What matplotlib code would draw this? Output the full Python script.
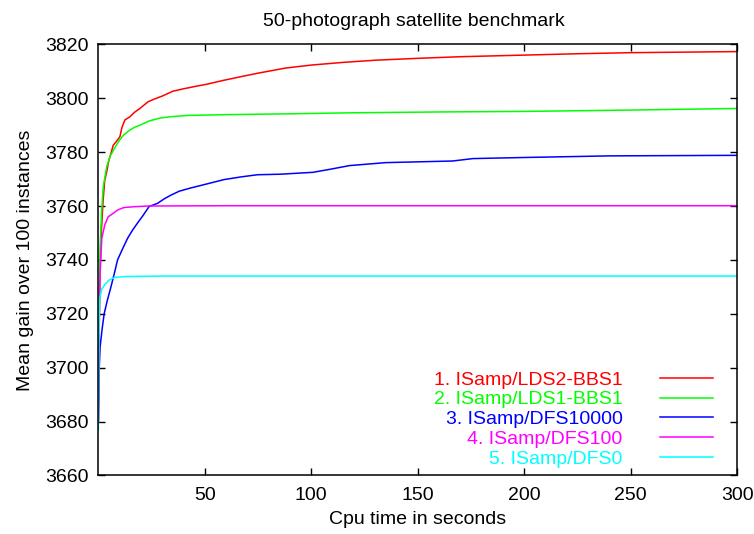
import matplotlib
matplotlib.use("Agg")
import matplotlib.pyplot as plt

plt.rcParams["font.family"] = ["Liberation Sans", "DejaVu Sans"]

# --- curves (cpu seconds, mean gain) ---
lds2_t = [0, 0.3, 0.7, 1.5, 2.2, 3.0, 4.0, 4.6, 5.5, 7.0, 8.5, 10.1, 11.0, 12.4, 14.8, 17, 19.5,
          21.5, 23.4, 26, 30, 35, 40, 45, 51, 58, 67, 75, 88, 100, 115, 130, 150, 170, 200,
          225, 250, 275, 300]
lds2_v = [3680, 3712, 3735, 3752, 3762, 3769.6, 3773, 3775.8, 3778.5, 3782.6, 3784, 3785.7,
          3789, 3791.9, 3793.1, 3794.8, 3796.2, 3797.5, 3798.7, 3799.6, 3800.8, 3802.6, 3803.5,
          3804.3, 3805.2, 3806.5, 3808, 3809.3, 3811.2, 3812.3, 3813.3, 3814.1, 3814.8, 3815.4,
          3816.0, 3816.5, 3816.9, 3817.1, 3817.3]

lds1_t = [0, 0.3, 0.8, 1.5, 2.3, 3.9, 5.5, 8, 10, 11.8, 14.8, 17, 19.5, 24, 29.3, 35, 41.8,
          60, 88.7, 120, 160, 200, 250, 275, 300]
lds1_v = [3685, 3720, 3745, 3758, 3767.2, 3774.6, 3778.5, 3782, 3784.5, 3786.3, 3788.2,
          3789.2, 3790, 3791.6, 3792.7, 3793.2, 3793.6, 3793.9, 3794.2, 3794.6, 3794.9, 3795.1,
          3795.6, 3795.9, 3796.2]

dfs10000_t = [0, 0.4, 0.8, 1.7, 2.7, 4.2, 5.9, 7.5, 9, 11.3, 13.7, 16, 18.4, 21, 23.8, 27.8,
              31, 34, 38, 43.4, 50, 59, 67, 74.7, 85.5, 100.8, 110, 118, 135, 166.4, 176, 200,
              240, 270, 300]
dfs10000_v = [3680, 3700, 3707.7, 3714, 3720, 3725, 3730, 3735, 3740, 3744, 3748, 3751,
              3753.7, 3756.5, 3759.8, 3761, 3762.7, 3764, 3765.5, 3766.7, 3768, 3769.8, 3770.8,
              3771.6, 3771.8, 3772.5, 3773.8, 3775, 3776.1, 3776.7, 3777.6, 3778, 3778.6,
              3778.7, 3778.8]

dfs100_t = [0, 0.3, 0.8, 1.6, 3, 4.6, 7, 9, 11.8, 16, 23.4, 60, 150, 300]
dfs100_v = [3680, 3710, 3735, 3748, 3753, 3756, 3757.3, 3758.5, 3759.4, 3759.7, 3760,
            3760.1, 3760.1, 3760.1]

dfs0_t = [0, 0.2, 0.4, 0.7, 1.5, 3, 5, 7.7, 12, 30, 300]
dfs0_v = [3677, 3705, 3719, 3726, 3729, 3730.9, 3732.5, 3733.5, 3733.8, 3734, 3734]

labels = ["1. ISamp/LDS2-BBS1", "2. ISamp/LDS1-BBS1", "3. ISamp/DFS10000",
          "4. ISamp/DFS100", "5. ISamp/DFS0"]
colors = ["#ff0000", "#00ff00", "#0000ff", "#ff00ff", "#00ffff"]
series = [(lds2_t, lds2_v), (lds1_t, lds1_v), (dfs10000_t, dfs10000_v),
          (dfs100_t, dfs100_v), (dfs0_t, dfs0_v)]

xticks = [50, 100, 150, 200, 250, 300]
yticks = [3660, 3680, 3700, 3720, 3740, 3760, 3780, 3800, 3820]

FS = 14

fig = plt.figure(figsize=(7.54, 5.34), dpi=100)
ax = fig.add_axes([0.1305, 0.1096, 0.847, 0.8074])

for (t, v), c, lab in zip(series, colors, labels):
    ax.plot(t, v, color=c, lw=1.1, label=lab)

ax.set_xlim(0, 300)
ax.set_ylim(3660, 3820)
ax.set_xticks(xticks)
ax.set_yticks(yticks)
ax.tick_params(direction="in", length=5, width=1, top=True, right=True, labelsize=FS)
ax.tick_params(axis="x", pad=8)
ax.tick_params(axis="y", pad=7)
for s in ax.spines.values():
    s.set_linewidth(1.1)

ax.set_xlabel("Cpu time in seconds", fontsize=FS, labelpad=5)
ax.set_ylabel("Mean gain over 100 instances", fontsize=FS, labelpad=8)
ax.set_title("50-photograph satellite benchmark", fontsize=FS, pad=13, x=0.494)

leg = ax.legend(loc="lower right", bbox_to_anchor=(0.962, 0.018), frameon=False,
                markerfirst=False, labelcolor="linecolor", fontsize=FS,
                handlelength=2.73, handletextpad=1.9, labelspacing=0.11,
                borderpad=0, borderaxespad=0)

fig.savefig("out.png", dpi=100)
